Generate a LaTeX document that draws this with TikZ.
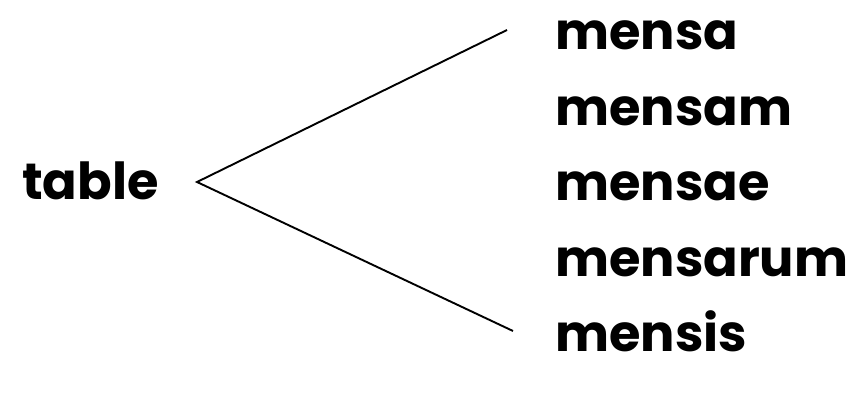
\documentclass[tikz,border=0pt]{standalone}
\usepackage{fontspec}
\setmainfont{Poppins}
\usepackage{tikz}
\usetikzlibrary{positioning}

\begin{document}
\begin{tikzpicture}[
  x=1pt, y=-1pt,
  word/.style={font=\bfseries\fontsize{51}{51}\selectfont, inner sep=0pt,
               text height=40pt, text depth=35pt},
  branch/.style={line width=1.9pt}
]
\useasboundingbox (0,0) rectangle (857,411);
\node[word, anchor=base west] (eng) at (22,200) {table};
\node[word, anchor=base west] (nom) at (555,50) {mensa};
\node[word, below=0pt of nom.south west, anchor=north west] (acc) {mensam};
\node[word, below=0pt of acc.south west, anchor=north west] (gen) {mensae};
\node[word, below=0pt of gen.south west, anchor=north west] (genpl) {mensarum};
\node[word, below=0pt of genpl.south west, anchor=north west] (dat) {mensis};
% fork
\coordinate (fork) at (197,182);
\coordinate (top) at (507,30);
\coordinate (bot) at (513,331);
\draw[branch] (top) -- (fork) -- (bot);
\end{tikzpicture}
\end{document}
